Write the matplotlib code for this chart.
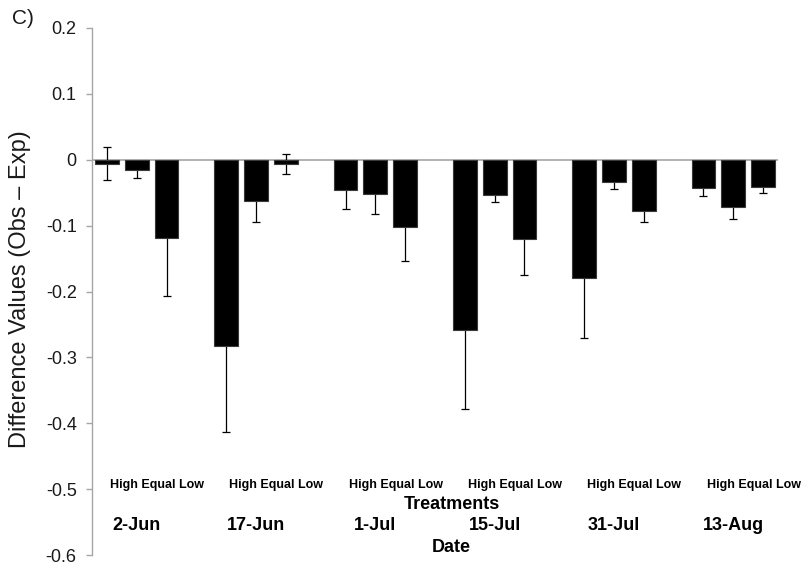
import matplotlib
matplotlib.use("Agg")
import matplotlib.pyplot as plt
from matplotlib.ticker import FuncFormatter

plt.rcParams['font.family'] = ['Liberation Sans', 'DejaVu Sans']

dates = ["2-Jun", "17-Jun", "1-Jul", "15-Jul", "31-Jul", "13-Aug"]
treatments = ["High", "Equal", "Low"]
high = [-0.006, -0.283, -0.046, -0.258, -0.179, -0.043]
equal = [-0.015, -0.062, -0.052, -0.054, -0.034, -0.072]
low = [-0.119, -0.006, -0.102, -0.120, -0.078, -0.041]
high_err = [0.025, 0.131, 0.029, 0.120, 0.091, 0.012]
equal_err = [0.013, 0.033, 0.031, 0.010, 0.010, 0.018]
low_err = [0.088, 0.015, 0.051, 0.055, 0.017, 0.010]
yticks = [0.2, 0.1, 0.0, -0.1, -0.2, -0.3, -0.4, -0.5, -0.6]

fig = plt.figure(figsize=(8.01, 5.67), dpi=100)
ax = fig.add_axes([92/801, 12/567, 686/801, 527/567])

slots_per_group = 4
series = [(high, high_err), (equal, equal_err), (low, low_err)]
for t, (vals, errs) in enumerate(series):
    xs = [g * slots_per_group + t for g in range(len(dates))]
    ax.errorbar(xs, vals, yerr=errs, fmt='none', ecolor='black',
                elinewidth=0.9, capsize=3.2, capthick=0.9, zorder=2)
    ax.bar(xs, vals, width=0.8, color='black', edgecolor='#3a3a3a',
           linewidth=0.8, zorder=3)

ax.axhline(0, color='#a6a6a6', linewidth=1.2, zorder=1)

n_slots = len(dates) * slots_per_group - 1
ax.set_xlim(-0.5, n_slots - 0.5)
ax.set_ylim(-0.6, 0.2)
ax.set_yticks(yticks)
ax.yaxis.set_major_formatter(FuncFormatter(lambda v, p: "0" if abs(v) < 1e-9 else f"{v:.1f}"))
ax.set_xticks([])
for s in ['top', 'right', 'bottom']:
    ax.spines[s].set_visible(False)
ax.spines['left'].set_color('#a6a6a6')
ax.spines['left'].set_linewidth(1.0)
ax.tick_params(axis='y', direction='out', length=4, width=1.0, color='#a6a6a6',
               labelsize=13, pad=7, labelcolor='#1a1a1a')

ax.set_ylabel("Difference Values (Obs \u2013 Exp)", fontsize=17, color='#1a1a1a')
ax.yaxis.set_label_coords(-0.089, 0.505)

for g, d in enumerate(dates):
    center = g * slots_per_group + 1
    ax.text(center + 0.68, -0.494, " ".join(treatments), fontsize=9, fontweight='bold',
            ha='center', va='center', color='black')
    ax.text(center, -0.555, d, fontsize=13, fontweight='bold',
            ha='center', va='center', color='black')

ax.text(11.58, -0.524, "Treatments", fontsize=13, fontweight='bold', ha='center', va='center')
ax.text(11.56, -0.589, "Date", fontsize=13, fontweight='bold', ha='center', va='center',
        clip_on=False)

fig.text(12/801, 1 - 18/567, "C)", fontsize=15, ha='left', va='center', color='#1a1a1a')

fig.savefig("out.png", dpi=100)
